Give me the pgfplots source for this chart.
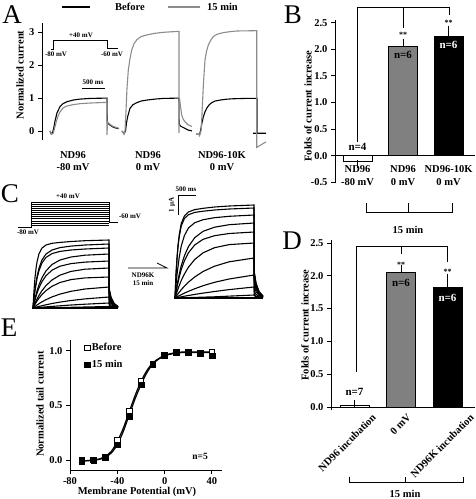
\documentclass[border=0pt]{standalone}
\usepackage{fontspec}
\setmainfont{Liberation Serif}
\usepackage{pgfplots}
\pgfplotsset{compat=1.18}
\definecolor{tgray}{RGB}{140,140,140}
\definecolor{bgray}{RGB}{128,128,128}
\pgfplotsset{
  mybase/.style={scale only axis, clip=false,
    tick label style={font=\bfseries\fontsize{10.5}{12}\selectfont},
    /pgf/number format/assume math mode=true,
    tick align=outside, major tick length=4pt,
    axis line style={line width=0.9pt},
    every tick/.append style={line width=0.9pt, black}},
  tr/.style={black, line width=1.1pt, no markers},
  gtr/.style={tgray, line width=1.1pt, no markers},
  bk/.style={tr, line width=1.1pt},
  thinl/.style={black, line width=0.8pt, no markers},
}
\tikzset{
  lab/.style={font=\bfseries\fontsize{10.5}{12.6}\selectfont, inner sep=0pt, align=center},
  nl/.style={font=\bfseries\fontsize{11}{12}\selectfont, inner sep=0pt},
  st/.style={font=\bfseries\fontsize{8}{9}\selectfont, inner sep=0pt},
  sm/.style={font=\bfseries\fontsize{7}{8}\selectfont, inner sep=0pt, align=center},
  letter/.style={font=\fontsize{27}{27}\selectfont, inner sep=0pt},
}
\begin{document}
\begin{tikzpicture}
\path[use as bounding box] (0pt,0pt) rectangle (476pt,-499pt);

% ---------------- Panel A ----------------
\begin{axis}[mybase, at={(42pt,-140pt)}, anchor=south west, width=228pt, height=117pt,
  xmin=42, xmax=270, ymin=-0.274, ymax=3.283,
  axis x line=none, axis y line*=left, xtick=\empty, ytick={0,1,2,3}]
% legend
\addplot[bk] coordinates {(62,3.77) (90,3.77)};
\addplot[gtr] coordinates {(168,3.77) (200,3.77)};
\node[lab] at (axis cs:130,3.77) {Before};
\node[lab] at (axis cs:222.5,3.77) {15 min};
% protocol inset
\addplot[thinl] coordinates {(51,2.492) (53,2.492) (53,2.745) (107,2.745) (107,2.514) (118,2.514)};
\node[sm] at (axis cs:81,2.92) {+40 mV};
\node[sm] at (axis cs:56,2.34) {-80 mV};
\node[sm] at (axis cs:112,2.34) {-60 mV};
\addplot[thinl] coordinates {(82,1.30) (105,1.30)};
\node[sm] at (axis cs:93,1.47) {500 ms};
% trace 1 (ND96 -80 mV)
\addplot[bk] coordinates {(50,0) (51,-0.08) (52.5,-0.05) (53.5,0.05) (55,0.3) (57,0.55) (60,0.74) (63,0.83) (67,0.89) (73,0.94) (80,0.97) (90,0.99) (107,1.0) (107.3,0.25) (110,0.18) (113,0.12) (116,0.09) (119,0.07)};
\addplot[gtr] coordinates {(50,0) (51.5,-0.1) (53,-0.08) (54,0.02) (56,0.25) (58,0.45) (60,0.58) (63,0.70) (67,0.76) (73,0.80) (80,0.83) (90,0.85) (107,0.87) (107,1.02) (107,-0.12) (107.5,0.28) (110,0.2) (113,0.14) (116,0.11) (119,0.08)};
% trace 2 (ND96 0 mV)
\addplot[bk] coordinates {(122,0) (124,-0.08) (125.5,0.0) (126.5,0.25) (127.7,0.44) (130,0.69) (133,0.8) (136.7,0.86) (141,0.91) (146.7,0.94) (155,0.97) (163.3,0.99) (179,1.0) (179.3,0.2) (181,0.14) (185,0.08) (188,0.03) (192,0.0)};
\addplot[gtr] coordinates {(122,0) (124,-0.1) (125,0.0) (126,0.6) (127,1.3) (128.3,1.85) (130,2.2) (131.7,2.46) (134,2.65) (136.7,2.77) (141,2.87) (146.7,2.92) (155,2.97) (163.3,3.0) (179,3.03) (179,-0.06) (179.5,1.0) (180.5,0.75) (181.7,0.49) (183,0.37) (185,0.28) (188,0.19) (192,0.13)};
% trace 3 (ND96-10K 0 mV)
\addplot[bk] coordinates {(196,-0.1) (199,-0.1) (199.5,-0.12) (200.7,0.03) (202,0.25) (203.3,0.43) (205,0.58) (206.7,0.69) (209,0.79) (211.7,0.86) (215,0.91) (220,0.94) (226,0.965) (233.3,0.98) (245,0.99) (257,0.99) (257,-0.07) (253,-0.07) (266,-0.07)};
\addplot[gtr] coordinates {(196,-0.1) (199,-0.1) (199.5,-0.14) (201,0.0) (201.7,0.33) (202.5,0.85) (203.3,1.35) (204.2,1.8) (205,2.16) (206.5,2.42) (208.3,2.61) (210.5,2.75) (213.3,2.87) (217,2.94) (223.3,2.99) (230,3.02) (236.7,3.04) (256.7,3.05) (256.7,-0.5) (266,-0.33)};
\end{axis}
\node[lab, rotate=90] at (20pt,-75pt) {Normalized current};
\node[lab] at (73pt,-161pt) {ND96\\-80 mV};
\node[lab] at (148pt,-161pt) {ND96\\0 mV};
\node[lab] at (222pt,-161pt) {ND96-10K\\0 mV};

% ---------------- Panel B ----------------
\begin{axis}[mybase, at={(335pt,-183pt)}, anchor=south west, width=140pt, height=163pt,
  xmin=-0.495, xmax=2.582, ymin=-0.513, ymax=2.55,
  axis x line=none, axis y line*=left, xtick=\empty,
  ytick={-0.5,0,0.5,1,1.5,2,2.5},
  yticklabel style={/pgf/number format/.cd, fixed, fixed zerofill, precision=1}]
\addplot[ybar, bar shift=0pt, bar width=0.637, fill=white, draw=black, line width=0.8pt,
  error bars/.cd, y dir=minus, y explicit, error bar style={line width=0.8pt, black},
  error mark options={black, line width=0.8pt, mark size=4pt}]
  coordinates {(0,-0.10) +- (0,0.055)};
\addplot[ybar, bar shift=0pt, bar width=0.637, fill=bgray, draw=black, line width=0.8pt,
  error bars/.cd, y dir=plus, y explicit, error bar style={line width=0.8pt, black},
  error mark options={black, line width=0.8pt, mark size=4pt}]
  coordinates {(1,2.06) +- (0,0.06)};
\addplot[ybar, bar shift=0pt, bar width=0.637, fill=black, draw=black, line width=0.8pt,
  error bars/.cd, y dir=plus, y explicit, error bar style={line width=0.8pt, black},
  error mark options={black, line width=0.8pt, mark size=4pt}]
  coordinates {(2,2.24) +- (0,0.13)};
\addplot[black, line width=0.9pt, no markers] coordinates {(-0.495,0) (2.582,0)};
\node[nl] at (axis cs:0,0.17) {n=4};
\node[nl] at (axis cs:1,1.89) {n=6};
\node[nl, white] at (axis cs:2,2.08) {n=6};
\node[st] at (axis cs:1,2.27) {**};
\node[st] at (axis cs:2,2.49) {**};
% brackets
\addplot[thinl] coordinates {(0,0.26) (0,2.795) (2.03,2.795) (2.03,2.645)};
\addplot[thinl] coordinates {(1,2.795) (1,2.40)};
\addplot[thinl] coordinates {(0.187,-0.89) (0.187,-1.06) (2.077,-1.06) (2.077,-0.89)};
\addplot[thinl] coordinates {(1.11,-1.06) (1.11,-0.89)};
\node[lab] at (axis cs:0,-0.372) {ND96\\-80 mV};
\node[lab] at (axis cs:1,-0.372) {ND96\\0 mV};
\node[lab] at (axis cs:2,-0.372) {ND96-10K\\0 mV};
\node[lab] at (axis cs:1.11,-1.40) {15 min};
\end{axis}
\node[lab, rotate=90] at (308pt,-106pt) {Folds of current increase};

% ---------------- Panel C ----------------
\begin{axis}[scale only axis, clip=false, hide axis, at={(0pt,-310pt)}, anchor=south west,
  width=280pt, height=125pt, xmin=0, xmax=280, ymin=185, ymax=310, y dir=reverse]
% protocol
\addplot[black, line width=0.5pt, no markers, unbounded coords=jump] coordinates {
 (31,202) (109,202) (31,nan) (31,204.1) (109,204.1) (31,nan) (31,206.2) (109,206.2) (31,nan)
 (31,208.3) (109,208.3) (31,nan) (31,210.3) (109,210.3) (31,nan) (31,212.4) (109,212.4) (31,nan)
 (31,214.5) (109,214.5) (31,nan) (31,216.6) (109,216.6) (31,nan) (31,218.7) (109,218.7) (31,nan)
 (31,220.8) (109,220.8) (31,nan) (31,222.8) (109,222.8) (31,nan) (31,224.9) (109,224.9)};
\addplot[thinl] coordinates {(18,227) (31,227) (31,202)};
\addplot[thinl] coordinates {(109,202) (109,222.8) (118,222.8)};
% left family (before)
\addplot[tr] coordinates {(33,308) (34,290.5) (35,277.7) (36,268.6) (37,262.0) (39,253.7) (42,248.0) (46,245.0) (52,243.3) (60,242.4) (71,241.5) (85,240.7) (109,240) (109.3,289) (111,297.1) (114,303.2) (118,306.6)};
\addplot[tr] coordinates {(33,308) (34,297.8) (35,289.4) (37,276.8) (39,268.1) (42,259.9) (46,254.0) (52,250.0) (60,247.6) (71,246.1) (85,245.0) (109,244) (109.3,290.1) (111,297.8) (114,303.5) (118,306.7)};
\addplot[tr] coordinates {(33,308) (34,298.5) (35,290.5) (37,278.7) (39,270.6) (42,262.9) (46,257.4) (52,253.6) (60,251.4) (71,250.0) (85,249.0) (109,248) (109.3,291.2) (111,298.4) (114,303.8) (118,306.8)};
\addplot[tr] coordinates {(33,308) (35,298.7) (37,291.0) (39,284.8) (42,277.7) (46,270.9) (52,264.5) (60,260.0) (71,257.0) (85,255.2) (109,254) (109.3,292.9) (111,299.4) (114,304.2) (118,306.9)};
\addplot[tr] coordinates {(33,308) (35,299.9) (37,293.2) (39,287.8) (42,281.6) (46,275.7) (52,270.2) (60,266.2) (71,263.6) (85,262.1) (109,261) (109.3,294.8) (111,300.5) (114,304.7) (118,307.1)};
\addplot[tr] coordinates {(33,308) (35,303.2) (37,299.1) (39,295.4) (42,290.6) (46,285.6) (52,280.0) (60,275.1) (71,271.4) (85,269.2) (109,268) (109.3,296.8) (111,301.6) (114,305.2) (118,307.2)};
\addplot[tr] coordinates {(33,308) (35,304.3) (37,301.1) (39,298.2) (42,294.5) (46,290.6) (52,286.3) (60,282.5) (71,279.6) (85,277.9) (109,277) (109.3,299.3) (111,303.0) (114,305.8) (118,307.4)};
\addplot[tr] coordinates {(33,308) (35,306.4) (37,305.0) (39,303.7) (42,301.8) (46,299.7) (52,296.9) (60,294.1) (71,291.3) (85,289.0) (109,287) (109.3,302.1) (111,304.6) (114,306.5) (118,307.6)};
\addplot[tr] coordinates {(33,308) (37,306.9) (42,305.7) (46,304.8) (52,303.5) (60,302.1) (71,300.5) (85,298.9) (109,297) (109.3,304.9) (111,306.2) (114,307.2) (118,307.8)};
\addplot[tr] coordinates {(33,308) (42,307.2) (52,306.4) (60,305.8) (71,305.0) (85,304.2) (109,303) (110,306) (118,307.9)};
\addplot[tr] coordinates {(33,308) (71,307.3) (109,306.5) (118,308)};
\addplot[tr, line width=1.3pt] coordinates {(32,308) (118,308)};
% arrow
\addplot[thinl] coordinates {(128,268) (167,268) (157,263)};
% right family (15 min)
\addplot[tr] coordinates {(175,298) (176,274.0) (177.1,256.6) (178.1,244.2) (179.2,235.1) (181.2,223.7) (184.4,215.9) (188.5,211.9) (194.8,209.6) (203.1,208.3) (214.5,207.0) (229.1,206.0) (254,205) (254.3,272.0) (256,283.1) (259,291.5) (263,296.1)};
\addplot[tr] coordinates {(175,298) (176,274.8) (177.1,257.9) (178.1,245.9) (179.2,237.2) (181.2,226.1) (184.4,218.5) (188.5,214.7) (194.8,212.4) (203.1,211.2) (214.5,210.0) (229.1,209.0) (254,208) (254.3,272.8) (256,283.6) (259,291.7) (263,296.2)};
\addplot[tr] coordinates {(175,298) (176,284.8) (177.1,273.8) (179.2,257.5) (181.2,246.2) (184.4,235.6) (188.5,227.9) (194.8,222.7) (203.1,219.7) (214.5,217.7) (229.1,216.3) (254,215) (254.3,274.8) (256,284.7) (259,292.2) (263,296.3)};
\addplot[tr] coordinates {(175,298) (177.1,285.0) (179.2,274.4) (181.2,265.8) (184.4,255.8) (188.5,246.5) (194.8,237.6) (203.1,231.3) (214.5,227.2) (229.1,224.7) (254,223) (254.3,277.0) (256,286.0) (259,292.8) (263,296.5)};
\addplot[tr] coordinates {(175,298) (177.1,286.6) (179.2,277.3) (181.2,269.7) (184.4,260.9) (188.5,252.7) (194.8,244.9) (203.1,239.3) (214.5,235.7) (229.1,233.5) (254,232) (254.3,279.5) (256,287.4) (259,293.4) (263,296.7)};
\addplot[tr] coordinates {(175,298) (177.1,291.5) (179.2,285.7) (181.2,280.6) (184.4,274.1) (188.5,267.1) (194.8,259.4) (203.1,252.8) (214.5,247.7) (229.1,244.6) (254,243) (254.3,282.6) (256,289.2) (259,294.2) (263,296.9)};
\addplot[tr] coordinates {(175,298) (177.1,295.0) (179.2,292.3) (181.2,289.7) (184.4,286.2) (188.5,282.1) (194.8,276.9) (203.1,271.5) (214.5,266.2) (229.1,261.8) (254,258) (254.3,286.8) (256,291.6) (259,295.2) (263,297.2)};
\addplot[tr] coordinates {(175,298) (179.2,295.7) (184.4,293.1) (188.5,291.3) (194.8,288.7) (203.1,285.7) (214.5,282.3) (229.1,279.0) (254,275) (254.3,291.6) (256,294.3) (259,296.4) (263,297.5)};
\addplot[tr] coordinates {(175,298) (184.4,296.2) (194.8,294.4) (203.1,293.1) (214.5,291.5) (229.1,289.6) (254,287) (254.3,294.9) (256,296.2) (259,297.2) (263,297.8)};
\addplot[tr] coordinates {(175,298) (214.5,296.8) (254,295) (256,297) (263,298)};
\addplot[tr, line width=1.3pt] coordinates {(174,298) (263,298)};
% scale bars
\addplot[thinl] coordinates {(196,195) (178,195) (178,215)};
\end{axis}
\node[sm] at (68pt,-196pt) {+40 mV};
\node[sm] at (130pt,-216pt) {-60 mV};
\node[sm] at (28pt,-232pt) {-80 mV};
\node[sm] at (143pt,-279.5pt) {ND96K\\15 min};
\node[sm] at (186pt,-189pt) {500 ms};
\node[sm, rotate=90] at (172pt,-205pt) {1 µA};

% ---------------- Panel D ----------------
\begin{axis}[mybase, at={(331pt,-410pt)}, anchor=south west, width=144pt, height=170pt,
  xmin=-0.505, xmax=2.59, ymin=-0.046, ymax=2.545,
  axis x line=none, axis y line*=left, xtick=\empty,
  ytick={0,0.5,1,1.5,2,2.5},
  yticklabel style={/pgf/number format/.cd, fixed, fixed zerofill, precision=1}]
\addplot[ybar, bar shift=0pt, bar width=0.624, fill=white, draw=black, line width=0.8pt,
  error bars/.cd, y dir=plus, y explicit, error bar style={line width=0.8pt, black},
  error mark options={black, line width=0.8pt, mark size=4pt}]
  coordinates {(0,0.02) +- (0,0.02)};
\addplot[ybar, bar shift=0pt, bar width=0.624, fill=bgray, draw=black, line width=0.8pt,
  error bars/.cd, y dir=plus, y explicit, error bar style={line width=0.8pt, black},
  error mark options={black, line width=0.8pt, mark size=4pt}]
  coordinates {(1,2.05) +- (0,0.06)};
\addplot[ybar, bar shift=0pt, bar width=0.624, fill=black, draw=black, line width=0.8pt,
  error bars/.cd, y dir=plus, y explicit, error bar style={line width=0.8pt, black},
  error mark options={black, line width=0.8pt, mark size=4pt}]
  coordinates {(2,1.83) +- (0,0.14)};
\addplot[black, line width=0.9pt, no markers] coordinates {(-0.505,0) (2.59,0)};
\node[nl] at (axis cs:0,0.23) {n=7};
\node[nl] at (axis cs:1,1.89) {n=6};
\node[nl, white] at (axis cs:2,1.66) {n=6};
\node[st] at (axis cs:1,2.17) {**};
\node[st] at (axis cs:2,2.06) {**};
\addplot[thinl] coordinates {(0.05,0.53) (0.05,2.45) (2,2.45) (2,2.21)};
\addplot[thinl] coordinates {(1,2.45) (1,2.33)};
\addplot[thinl] coordinates {(-0.118,-1.06) (-0.118,-1.143) (2.333,-1.143) (2.333,-1.06)};
\addplot[thinl] coordinates {(1.086,-1.143) (1.086,-1.06)};
\node[lab, rotate=45] at (axis cs:-0.161,-0.545) {ND96 incubation};
\node[lab, rotate=45] at (axis cs:0.99,-0.26) {0 mV};
\node[lab, rotate=45] at (axis cs:1.882,-0.59) {ND96K incubation};
\node[lab] at (axis cs:1.086,-1.33) {15 min};
\end{axis}
\node[lab, rotate=90] at (305pt,-325pt) {Folds of current increase};

% ---------------- Panel E ----------------
\begin{axis}[mybase, at={(70pt,-470pt)}, anchor=south west, width=152pt, height=130pt,
  xmin=-80, xmax=48.5, ymin=-0.092, ymax=1.10,
  axis lines*=left, xtick={-80,-40,0,40}, ytick={0,0.5,1},
  yticklabel style={/pgf/number format/.cd, fixed, fixed zerofill, precision=1},
  legend style={at={(0.093,0.99)}, anchor=north west, draw=none, fill=none,
    font=\bfseries\fontsize{10.5}{12}\selectfont, row sep=4pt, inner sep=0pt},
  legend cell align=left]
\addplot[black, line width=1.2pt, smooth, no markers, forget plot] coordinates {(-70,-0.01) (-65,-0.005) (-60,0.0) (-55,0.01) (-50,0.035) (-45,0.08) (-40,0.17) (-35,0.29) (-30,0.44) (-25,0.59) (-20,0.72) (-15,0.82) (-10,0.89) (-5,0.93) (0,0.96) (5,0.975) (10,0.985) (15,0.99) (20,0.99) (25,0.99) (30,0.99) (35,0.99) (40,0.99)};
\addplot[black, line width=1.2pt, smooth, no markers, forget plot] coordinates {(-70,-0.01) (-65,-0.007) (-60,-0.003) (-55,0.006) (-50,0.025) (-45,0.065) (-40,0.14) (-35,0.26) (-30,0.41) (-25,0.56) (-20,0.69) (-15,0.80) (-10,0.88) (-5,0.925) (0,0.955) (5,0.97) (10,0.98) (15,0.985) (20,0.985) (25,0.985) (30,0.985) (35,0.985) (40,0.985)};
\addplot[only marks, mark=square*, mark size=2.8pt, mark options={fill=white, draw=black, line width=0.8pt}] coordinates {(-70,-0.005) (-60,0.0) (-50,0.03) (-40,0.18) (-30,0.45) (-20,0.72) (-10,0.88) (0,0.96) (10,0.99) (20,0.99) (30,0.98) (40,0.985)};
\addlegendentry{Before}
\addplot[only marks, mark=square*, mark size=2.8pt, mark options={fill=black, draw=black}] coordinates {(-70,-0.01) (-60,-0.005) (-50,0.025) (-40,0.14) (-30,0.40) (-20,0.69) (-10,0.875) (0,0.955) (10,0.99) (20,0.99) (30,0.98) (40,0.955)};
\addlegendentry{15 min}
\node[lab, font=\bfseries\fontsize{9.5}{11}\selectfont] at (axis cs:30,0.03) {n=5};
\end{axis}
\node[lab] at (137pt,-492pt) {Membrane Potential (mV)};
\node[lab, rotate=90] at (40pt,-404pt) {Normalized tail current};

% panel letters
\node[letter] at (12pt,-15pt) {A};
\node[letter] at (293pt,-15pt) {B};
\node[letter] at (10pt,-194pt) {C};
\node[letter] at (292pt,-241pt) {D};
\node[letter] at (9pt,-328pt) {E};
\end{tikzpicture}
\end{document}
